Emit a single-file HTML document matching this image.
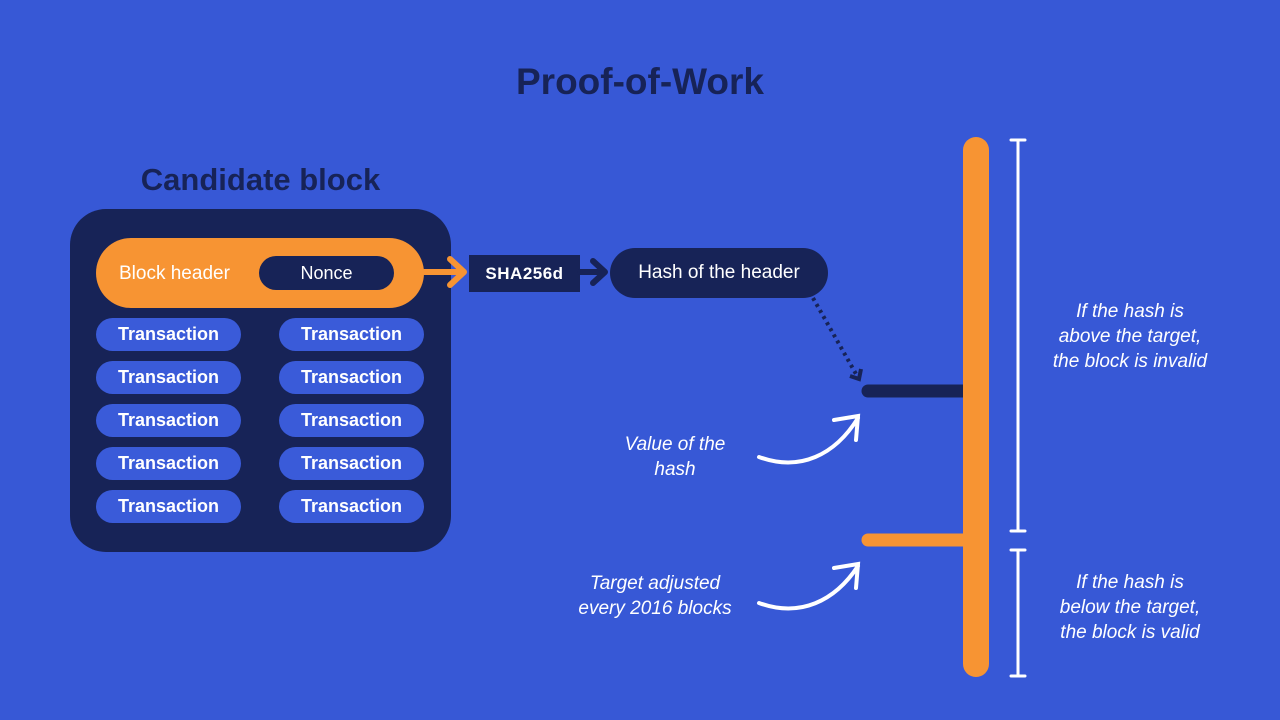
<!DOCTYPE html>
<html><head><meta charset="utf-8"><style>
*{margin:0;padding:0;box-sizing:border-box}
body{width:1280px;height:720px;background:#3758D6;position:relative;overflow:hidden;font-family:"Liberation Sans",sans-serif;color:#fff}
.a{position:absolute}
.t{display:flex;align-items:center;justify-content:center}
.tx{position:absolute;width:145px;height:33px;border-radius:17px;background:#3A5BD9;font-size:18px;font-weight:bold;display:flex;align-items:center;justify-content:center}
.it{position:absolute;font-style:italic;font-size:19px;text-align:center;line-height:25px;color:#fff}
</style></head><body>
<div class="a t" style="left:0;width:1280px;top:58px;height:48px;font-size:37px;font-weight:bold;color:#172357">Proof-of-Work</div>
<div class="a t" style="left:70px;width:381px;top:160px;height:40px;font-size:31px;font-weight:bold;color:#172357">Candidate block</div>
<div class="a" style="left:70px;top:209px;width:381px;height:343px;border-radius:36px;background:#172357"></div>
<div class="a" style="left:96px;top:238px;width:328px;height:70px;border-radius:35px;background:#F79433"></div>
<div class="a" style="left:119px;top:262px;font-size:19px;line-height:24px">Block header</div>
<div class="a t" style="left:259px;top:256px;width:135px;height:34px;border-radius:17px;background:#172357;font-size:18px">Nonce</div>
<div class="tx" style="left:96px;top:318px">Transaction</div><div class="tx" style="left:279px;top:318px">Transaction</div>
<div class="tx" style="left:96px;top:361px">Transaction</div><div class="tx" style="left:279px;top:361px">Transaction</div>
<div class="tx" style="left:96px;top:404px">Transaction</div><div class="tx" style="left:279px;top:404px">Transaction</div>
<div class="tx" style="left:96px;top:447px">Transaction</div><div class="tx" style="left:279px;top:447px">Transaction</div>
<div class="tx" style="left:96px;top:490px">Transaction</div><div class="tx" style="left:279px;top:490px">Transaction</div>
<div class="a t" style="left:469px;top:255px;width:111px;height:37px;background:#172357;font-size:17px;font-weight:bold;letter-spacing:0.5px">SHA256d</div>
<div class="a t" style="left:610px;top:248px;width:218px;height:50px;border-radius:25px;background:#172357;font-size:19px">Hash of the header</div>
<svg class="a" style="left:0;top:0" width="1280" height="720">
<path d="M424 272H462M450 259L464 272L450 285" stroke="#F79433" stroke-width="6" fill="none" stroke-linecap="round" stroke-linejoin="round"/>
<path d="M580 272H604M593 261L605 272L593 283" stroke="#172357" stroke-width="6" fill="none" stroke-linecap="round" stroke-linejoin="round"/>
<path d="M813 298L856 374" stroke="#172357" stroke-width="4" stroke-dasharray="3,4" fill="none"/>
<path d="M850 376L859 379L861 369" stroke="#172357" stroke-width="4" fill="none"/>
<path d="M868 391H970" stroke="#172357" stroke-width="13" stroke-linecap="round"/>
<path d="M868 540H970" stroke="#F79433" stroke-width="13" stroke-linecap="round"/>
<rect x="963" y="137" width="26" height="540" rx="13" fill="#F79433"/>
<g stroke="#fff" stroke-width="3" stroke-linecap="round" fill="none">
<path d="M1018 140V531M1011 140H1025M1011 531H1025"/>
<path d="M1018 550V676M1011 550H1025M1011 676H1025"/>
</g>
<g stroke="#fff" stroke-width="4" stroke-linecap="round" fill="none">
<path d="M759 457C800 472 835 455 858 418M834 420L858 416L856 440"/>
<path d="M759 603C800 618 835 601 858 566M834 568L858 564L856 588"/>
</g>
</svg>
<div class="it" style="left:600px;top:432px;width:150px">Value of the<br>hash</div>
<div class="it" style="left:560px;top:571px;width:190px">Target adjusted<br>every 2016 blocks</div>
<div class="it" style="left:1040px;top:299px;width:180px">If the hash is<br>above the target,<br>the block is invalid</div>
<div class="it" style="left:1040px;top:570px;width:180px">If the hash is<br>below the target,<br>the block is valid</div>
</body></html>
